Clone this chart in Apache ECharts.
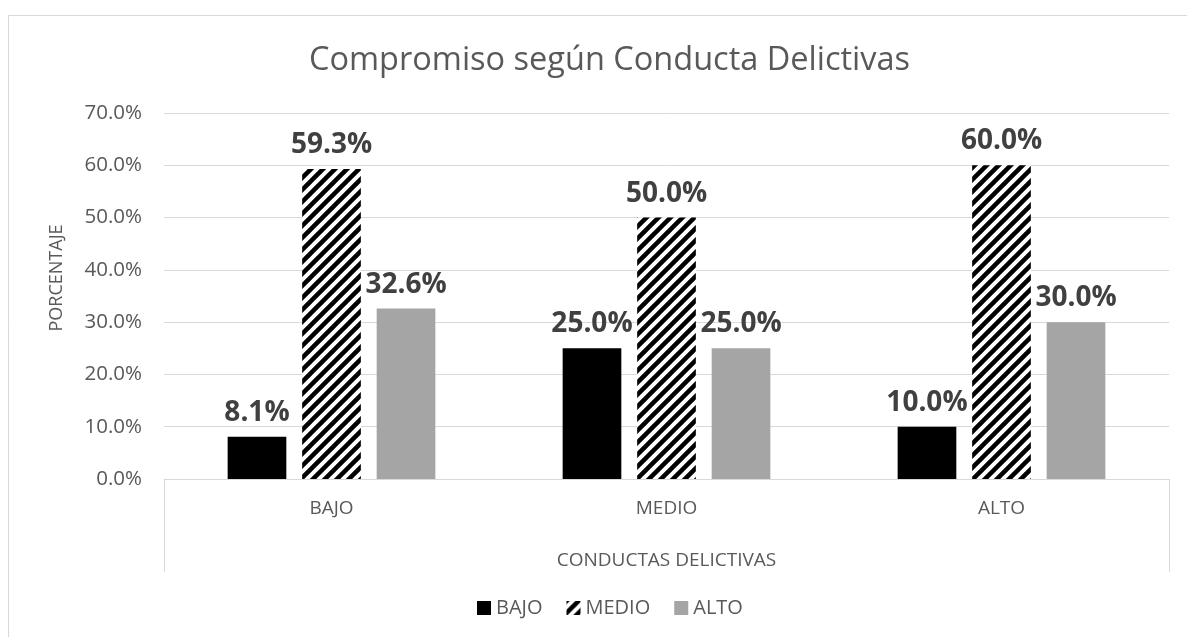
<!DOCTYPE html>
<html>
<head>
<meta charset="utf-8">
<script src="https://cdn.jsdelivr.net/npm/echarts@6/dist/echarts.min.js"></script>
<style>
  html, body { margin: 0; padding: 0; background: #fff; }
  #main { width: 1187px; height: 637px; }
</style>
</head>
<body>
<div id="main"></div>
<script>
(function(){
    // datos
    var categorias = ['BAJO', 'MEDIO', 'ALTO'];
    var serieBajo  = [8.1, 25.0, 10.0];
    var serieMedio = [59.3, 50.0, 60.0];
    var serieAlto  = [32.6, 25.0, 30.0];
    var nombres = ['BAJO', 'MEDIO', 'ALTO'];

    // trama diagonal para la serie MEDIO
    function trama(){
        var c = document.createElement('canvas');
        c.width = 12; c.height = 12;
        var ctx = c.getContext('2d');
        ctx.fillStyle = '#fff';
        ctx.fillRect(0, 0, 12, 12);
        ctx.strokeStyle = '#000';
        ctx.lineWidth = 4.5;
        ctx.beginPath();
        ctx.moveTo(-3, 15); ctx.lineTo(15, -3);
        ctx.moveTo(-9, 9); ctx.lineTo(9, -9);
        ctx.moveTo(3, 21); ctx.lineTo(21, 3);
        ctx.stroke();
        return c;
    }

    var fuente = "'Open Sans', 'Noto Sans', sans-serif";
    var gris = '#595959';
    var linea = '#d9d9d9';

    var myChart = echarts.init(document.getElementById('main'));

    var etiqueta = {
        show: true,
        position: 'top',
        distance: 10,
        fontFamily: fuente,
        fontSize: 28,
        fontWeight: 'bold',
        color: '#404040',
        formatter: function(p){ return p.value.toFixed(1) + '%'; }
    };

    var option = {
        backgroundColor: '#fff',
        textStyle: { fontFamily: fuente },
        title: {
            text: 'Compromiso según Conducta Delictivas',
            left: 304,
            top: 39,
            textStyle: { fontFamily: fuente, fontSize: 32.5, fontWeight: 'normal', color: gris }
        },
        legend: {
            data: nombres,
            bottom: 14,
            left: 472,
            itemWidth: 14,
            itemHeight: 14,
            itemGap: 24,
            icon: 'rect',
            textStyle: { fontFamily: fuente, fontSize: 20, color: gris }
        },
        grid: { left: 164, right: 18, top: 113, bottom: 158, containLabel: false },
        xAxis: {
            type: 'category',
            data: categorias,
            name: 'CONDUCTAS DELICTIVAS',
            nameLocation: 'middle',
            nameGap: 72,
            nameTextStyle: { fontFamily: fuente, fontSize: 19, color: gris },
            axisLine: { lineStyle: { color: linea, width: 1 } },
            axisTick: { show: false },
            axisLabel: { fontFamily: fuente, fontSize: 19, color: gris, margin: 20 }
        },
        yAxis: {
            type: 'value',
            min: 0,
            max: 70,
            interval: 10,
            name: 'PORCENTAJE',
            nameLocation: 'middle',
            nameGap: 98,
            nameRotate: 90,
            nameTextStyle: { fontFamily: fuente, fontSize: 18, color: gris, padding: [0, 0, 0, 36] },
            axisLine: { show: false },
            axisTick: { show: false },
            splitLine: { lineStyle: { color: linea, width: 1 } },
            axisLabel: {
                fontFamily: fuente, fontSize: 20.5, color: gris, margin: 22,
                formatter: function(v){ return v.toFixed(1) + '%'; }
            }
        },
        graphic: [
            { type: 'rect', silent: true, shape: { x: 8.5, y: 15.5, width: 1300, height: 800 },
              style: { fill: 'none', stroke: linea, lineWidth: 1 } },
            { type: 'line', silent: true, shape: { x1: 164.5, y1: 479, x2: 164.5, y2: 572 },
              style: { stroke: linea, lineWidth: 1 } },
            { type: 'line', silent: true, shape: { x1: 1169.5, y1: 479, x2: 1169.5, y2: 572 },
              style: { stroke: linea, lineWidth: 1 } }
        ],
        series: [
            {
                name: nombres[0], type: 'bar', data: serieBajo,
                barGap: '27%', barCategoryGap: '38%',
                itemStyle: { color: '#000' },
                label: etiqueta
            },
            {
                name: nombres[1], type: 'bar', data: serieMedio,
                itemStyle: { color: { image: trama(), repeat: 'repeat' } },
                label: etiqueta
            },
            {
                name: nombres[2], type: 'bar', data: serieAlto,
                itemStyle: { color: '#a5a5a5' },
                label: etiqueta
            }
        ]
    };
    myChart.setOption(option);
})();
</script>
</body>
</html>
